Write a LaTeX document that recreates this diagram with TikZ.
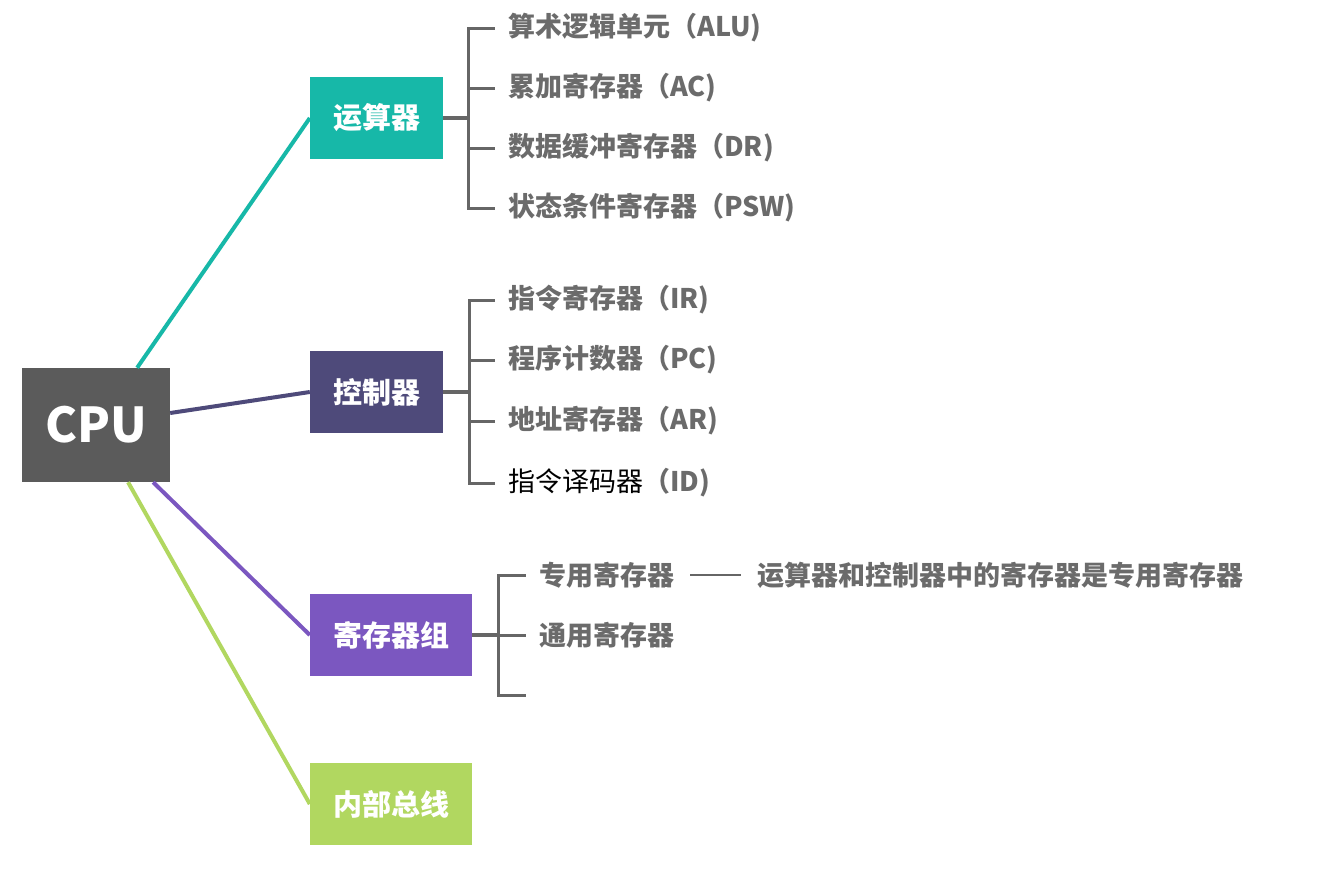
\documentclass[tikz,border=0pt]{standalone}
\usepackage{fontspec}
\usetikzlibrary{calc}
\setmainfont{Noto Sans CJK SC}
\newfontfamily\cjk{Noto Sans CJK SC}
\definecolor{cpugray}{HTML}{5B5B5B}
\definecolor{teal1}{HTML}{17B8A8}
\definecolor{darkpurple}{HTML}{4E4A7A}
\definecolor{purple1}{HTML}{7B57C0}
\definecolor{green1}{HTML}{B1D760}
\definecolor{linegray}{HTML}{666666}
\definecolor{textgray}{HTML}{6B6B6B}
\tikzset{
  box/.style={draw=none, inner sep=0pt, text=white, font=\cjk\fontsize{29}{34}\selectfont\bfseries, minimum height=82pt},
  leaf/.style={anchor=west, inner ysep=2pt, inner xsep=0pt, text=textgray, font=\cjk\fontsize{27}{32}\selectfont\bfseries},
  conn/.style={line width=4pt},
  stem/.style={draw=linegray, line width=4pt},
  branch/.style={draw=linegray, line width=3pt},
}
\begin{document}
\begin{tikzpicture}[x=1pt,y=-1pt]
\useasboundingbox (0,0) rectangle (1340,873);
\fill[white] (0,0) rectangle (1340,873);

% main nodes
\node[box, fill=cpugray, minimum width=148pt, minimum height=114pt, font=\cjk\fontsize{48}{56}\selectfont\bfseries] (cpu) at (96,425) {CPU};
\node[box, fill=teal1, minimum width=133pt] (yun) at (376.5,118) {运算器};
\node[box, fill=darkpurple, minimum width=133pt] (kong) at (376.5,392) {控制器};
\node[box, fill=purple1, minimum width=162pt] (ji) at (391,635) {寄存器组};
\node[box, fill=green1, minimum width=162pt] (nei) at (391,804) {内部总线};

% connectors from CPU
\draw[conn, teal1] ($(cpu.north west)!0.777!(cpu.north east)$) -- (yun.west);
\draw[conn, darkpurple] ([yshift=12pt]cpu.east) -- (kong.west);
\draw[conn, purple1] ($(cpu.south west)!0.885!(cpu.south east)$) -- (ji.west);
\draw[conn, green1] ($(cpu.south west)!0.716!(cpu.south east)$) -- (nei.west);

% 运算器 branch
\coordinate (yb) at (468,118);
\draw[stem] (yun.east) -- (yb);
\node[leaf] (y1) at (508,28) {算术逻辑单元（ALU)};
\node[leaf] (y2) at (508,88) {累加寄存器（AC)};
\node[leaf] (y3) at (508,148) {数据缓冲寄存器（DR)};
\node[leaf] (y4) at (508,208) {状态条件寄存器（PSW)};
\foreach \n in {y1,y2,y3,y4} \draw[branch] (yb) |- ([xshift=-13pt]\n.west);

% 控制器 branch
\coordinate (kb) at (469,392);
\draw[stem] (kong.east) -- (kb);
\node[leaf] (k1) at (508,300) {指令寄存器（IR)};
\node[leaf] (k2) at (508,360) {程序计数器（PC)};
\node[leaf] (k3) at (508,421) {地址寄存器（AR)};
\node[leaf] (k4) at (508,483) {{\color{black}\mdseries 指令译码器}（ID)};
\foreach \n in {k1,k2,k3,k4} \draw[branch] (kb) |- ([xshift=-13pt]\n.west);

% 寄存器组 branch
\coordinate (jb) at (498,635);
\draw[stem] (ji.east) -- (jb);
\node[leaf] (j1) at (539,575) {专用寄存器};
\node[leaf] (j2) at (539,635) {通用寄存器};
\coordinate (j3) at (526,695);
\foreach \n in {j1,j2} \draw[branch] (jb) |- ([xshift=-13pt]\n.west);
\draw[branch] (jb) |- (j3);
\node[leaf] (note) at (757,575) {运算器和控制器中的寄存器是专用寄存器};
\draw[line width=2pt, linegray] ([xshift=16pt]j1.east) -- ([xshift=-16pt]note.west);
\end{tikzpicture}
\end{document}
